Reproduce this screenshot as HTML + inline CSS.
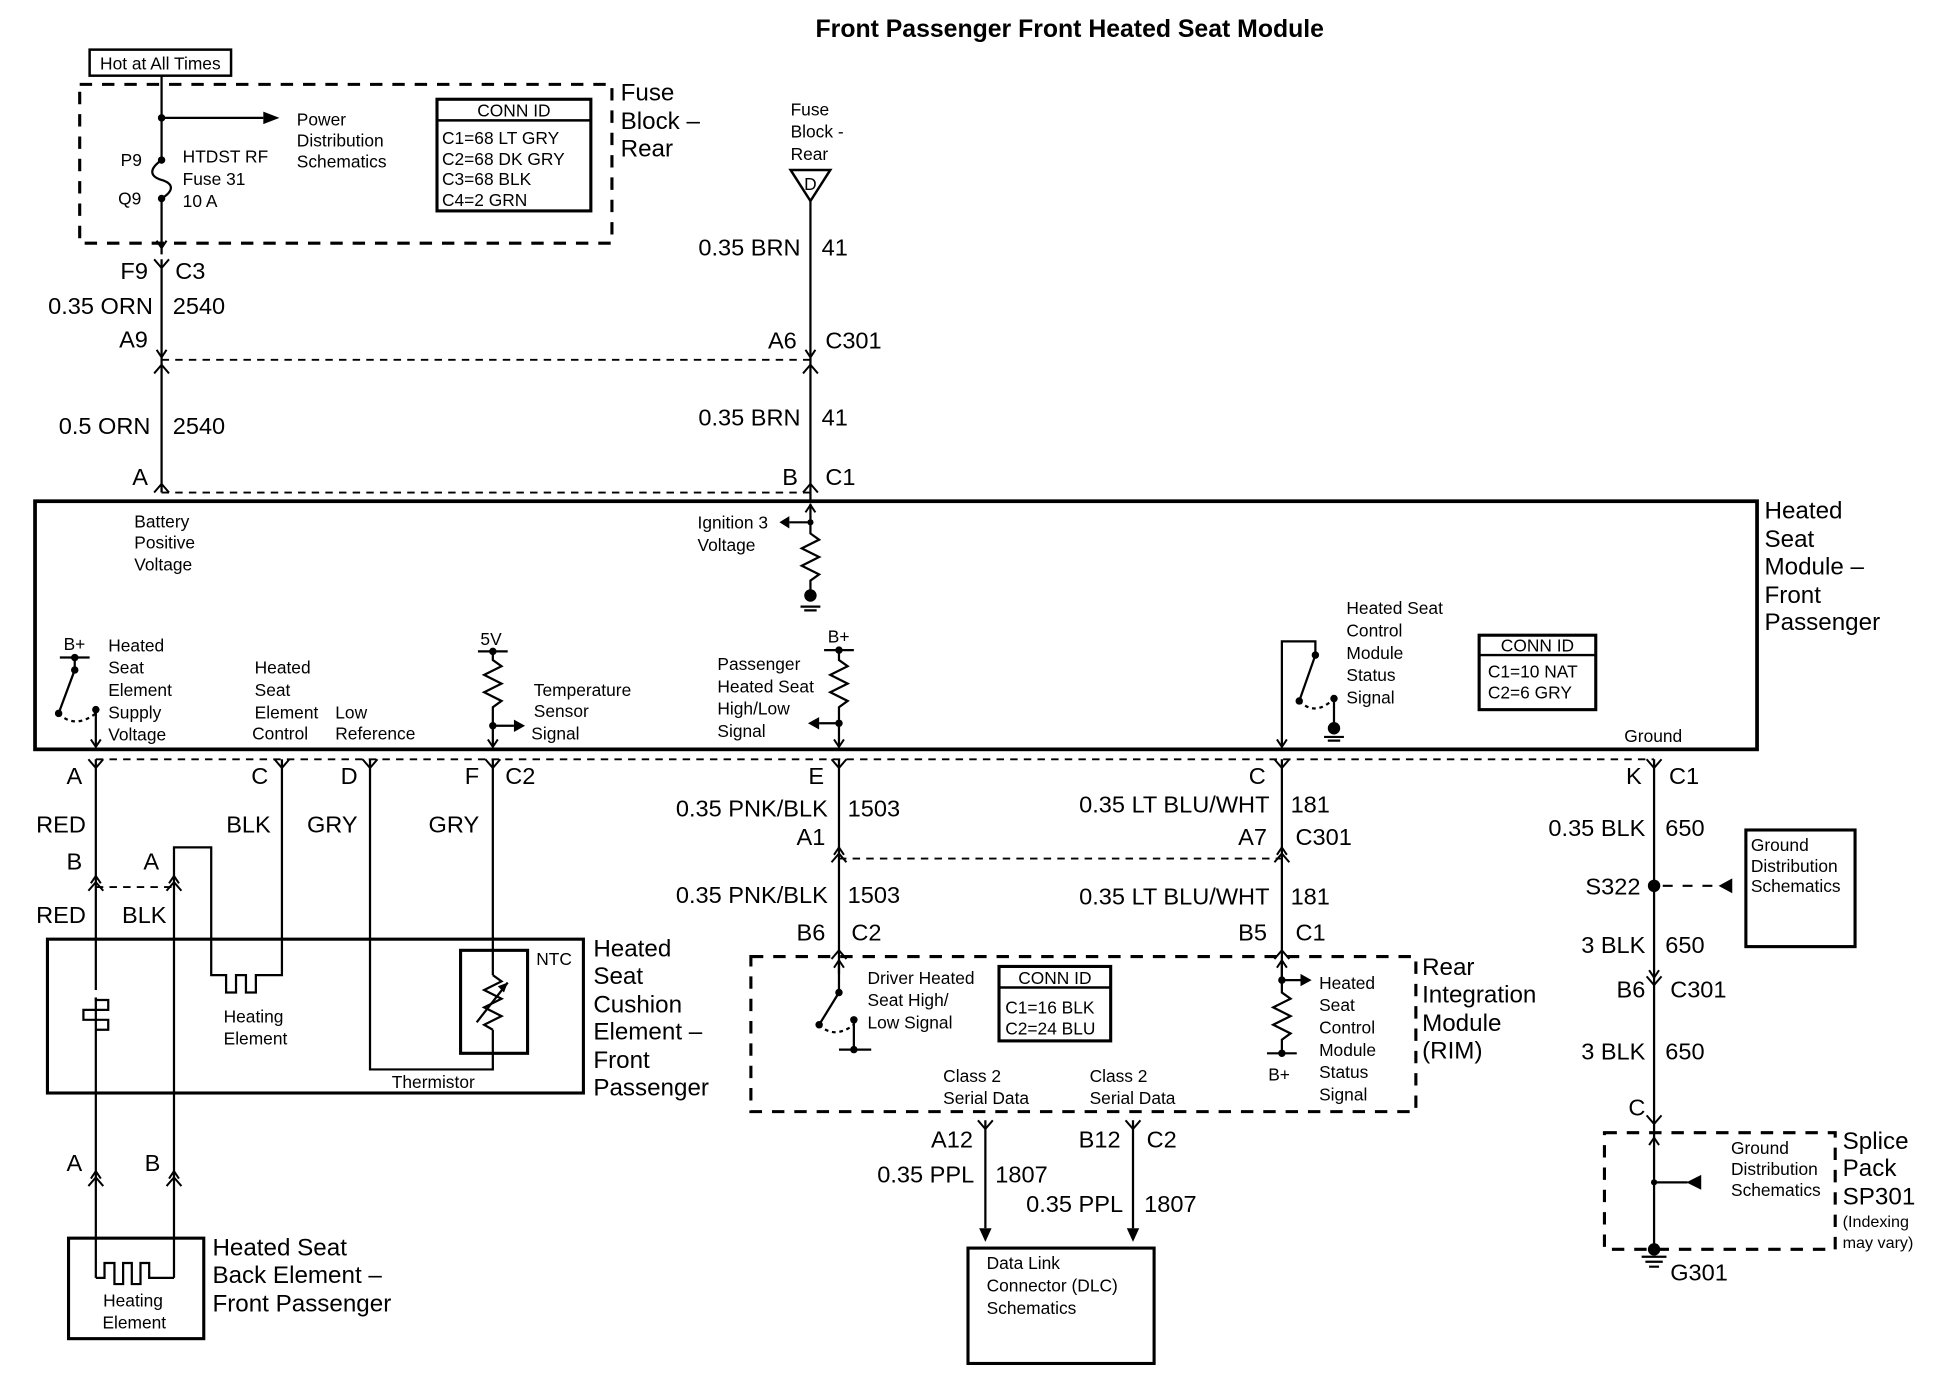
<!DOCTYPE html>
<html><head><meta charset="utf-8"><style>
html,body{margin:0;padding:0;background:#fff}
svg{display:block}
text{font-family:"Liberation Sans",Arial,sans-serif;fill:#000}
.s{font-size:14px}
.m{font-size:19px}
.L{font-size:19.5px}
.r{text-anchor:end}
.c{text-anchor:middle}
</style></head><body>
<svg width="1936" height="1392" viewBox="0 0 1560 1122" xmlns="http://www.w3.org/2000/svg">
<defs>
<path id="dn" d="M-6,-7 L0,0 L6,-7" fill="none" stroke="#000" stroke-width="1.6"/>
<path id="up" d="M-6,7 L0,0 L6,7" fill="none" stroke="#000" stroke-width="1.6"/>
<path id="ad" d="M-4,-6 L0,0 L4,-6" fill="none" stroke="#000" stroke-width="1.6"/>
<path id="au" d="M-4,6 L0,0 L4,6" fill="none" stroke="#000" stroke-width="1.6"/>
</defs>
<g stroke="#000" fill="none" stroke-width="1.8">
<!-- title -->
</g>
<text x="862" y="30" class="c" style="font-size:20px;font-weight:bold">Front Passenger Front Heated Seat Module</text>

<!-- Hot at all times -->
<rect x="72" y="40" width="114" height="21" fill="none" stroke="#000" stroke-width="2"/>
<text x="129" y="56" class="s c">Hot at All Times</text>
<!-- Fuse block dashed -->
<rect x="64" y="68" width="429" height="128" fill="none" stroke="#000" stroke-width="2.5" stroke-dasharray="10,8"/>
<text x="500" y="81" class="L">Fuse</text><text x="500" y="104" class="L">Block –</text><text x="500" y="126" class="L">Rear</text>
<g stroke="#000" fill="none" stroke-width="1.8">
<path d="M130,61 V129 M130,160 V205"/>
<path d="M130,129 C120,136 120,142 130,145 C140,148 140,154 130,160" />
<path d="M130,95 H212"/>
</g>
<polygon points="212,90 225,95 212,100" fill="#000"/>
<circle cx="130" cy="95" r="3" fill="#000"/><circle cx="130" cy="129" r="3" fill="#000"/><circle cx="130" cy="160" r="3" fill="#000"/>
<use href="#ad" x="130" y="200"/>
<text x="239" y="101" class="s">Power</text><text x="239" y="118" class="s">Distribution</text><text x="239" y="135" class="s">Schematics</text>
<text x="97" y="134" class="s">P9</text><text x="95" y="165" class="s">Q9</text>
<text x="147" y="131" class="s">HTDST RF</text><text x="147" y="149" class="s">Fuse  31</text><text x="147" y="167" class="s">10 A</text>
<rect x="352" y="80" width="124" height="90" fill="none" stroke="#000" stroke-width="2.5"/>
<line x1="352" y1="97" x2="476" y2="97" stroke="#000" stroke-width="2"/>
<text x="414" y="94" class="s c">CONN ID</text>
<text x="356" y="116" class="s">C1=68 LT GRY</text><text x="356" y="133" class="s">C2=68 DK GRY</text><text x="356" y="149" class="s">C3=68 BLK</text><text x="356" y="166" class="s">C4=2 GRN</text>

<!-- left wire 130 -->
<g stroke="#000" fill="none" stroke-width="1.8">
<path d="M130,209 V397"/>
<path d="M130,290 H653 M130,397 H653" stroke-dasharray="6,5" stroke-width="1.5"/>
<path d="M653,160 V404"/>
</g>
<use href="#dn" x="130" y="216"/>
<use href="#ad" x="130" y="288"/><use href="#up" x="130" y="294"/>
<use href="#up" x="130" y="390"/>
<text x="119" y="225" class="m r">F9</text><text x="141" y="225" class="m">C3</text>
<text x="123" y="253" class="m r">0.35 ORN</text><text x="139" y="253" class="m">2540</text>
<text x="119" y="280" class="m r">A9</text>
<text x="121" y="350" class="m r">0.5 ORN</text><text x="139" y="350" class="m">2540</text>
<text x="119" y="391" class="m r">A</text>

<!-- right top wire 653 -->
<text x="637" y="93" class="s">Fuse</text><text x="637" y="111" class="s">Block -</text><text x="637" y="129" class="s">Rear</text>
<polygon points="637,137 669,137 653,162" fill="none" stroke="#000" stroke-width="2"/>
<text x="653" y="153" class="s c">D</text>
<text x="645" y="206" class="m r">0.35 BRN</text><text x="662" y="206" class="m">41</text>
<text x="642" y="281" class="m r">A6</text><text x="665" y="281" class="m">C301</text>
<use href="#ad" x="653" y="288"/><use href="#up" x="653" y="294"/>
<text x="645" y="343" class="m r">0.35 BRN</text><text x="662" y="343" class="m">41</text>
<text x="643" y="391" class="m r">B</text><text x="665" y="391" class="m">C1</text>
<use href="#up" x="653" y="390"/>

<!-- module -->
<rect x="28" y="404" width="1388" height="200" fill="none" stroke="#000" stroke-width="3"/>
<text x="1422" y="418" class="L">Heated</text><text x="1422" y="441" class="L">Seat</text><text x="1422" y="463" class="L">Module –</text><text x="1422" y="486" class="L">Front</text><text x="1422" y="508" class="L">Passenger</text>
<text x="108" y="425" class="s">Battery</text><text x="108" y="442" class="s">Positive</text><text x="108" y="460" class="s">Voltage</text>
<text x="562" y="426" class="s">Ignition 3</text><text x="562" y="444" class="s">Voltage</text>
<g stroke="#000" fill="none" stroke-width="1.8">
<path d="M653,406 V430 L660,435 L646,442 L660,449 L646,456 L660,463 L653,468 V478"/>
<path d="M653,421 H636"/>
<path d="M645,489 H661 M648,492 H658"/>
</g>
<use href="#au" x="653" y="407"/>
<polygon points="636,416 628,421 636,426" fill="#000"/>
<circle cx="653" cy="421" r="2.5" fill="#000"/>
<circle cx="653" cy="480" r="5" fill="#000"/>

<!-- left switch -->
<g stroke="#000" fill="none" stroke-width="1.8">
<path d="M48,530 H72 M60,530 V540 M60,540 L47,575"/>
<path d="M47,575 Q60,588 77,575" stroke-dasharray="3,3"/>
<path d="M77,572 V602"/>
</g>
<circle cx="60" cy="530" r="3" fill="#000"/><circle cx="60" cy="540" r="3" fill="#000"/><circle cx="47" cy="575" r="3" fill="#000"/><circle cx="77" cy="572" r="3" fill="#000"/>
<use href="#ad" x="77" y="602"/>
<text x="51" y="524" class="s">B+</text>
<text x="87" y="525" class="s">Heated</text><text x="87" y="543" class="s">Seat</text><text x="87" y="561" class="s">Element</text><text x="87" y="579" class="s">Supply</text><text x="87" y="597" class="s">Voltage</text>
<text x="205" y="543" class="s">Heated</text><text x="205" y="561" class="s">Seat</text><text x="205" y="579" class="s">Element</text><text x="203" y="596" class="s">Control</text>
<text x="270" y="579" class="s">Low</text><text x="270" y="596" class="s">Reference</text>
<!-- 5V -->
<text x="387" y="520" class="s">5V</text>
<g stroke="#000" fill="none" stroke-width="1.8">
<path d="M385,525 H409 M397,525 V532 L404,537 L390,544 L404,551 L390,558 L404,565 L397,570 V602 M397,585 H414"/>
</g>
<circle cx="397" cy="525" r="3" fill="#000"/><circle cx="397" cy="585" r="3" fill="#000"/>
<polygon points="414,580 423,585 414,590" fill="#000"/>
<use href="#ad" x="397" y="602"/>
<text x="430" y="561" class="s">Temperature</text><text x="430" y="578" class="s">Sensor</text><text x="428" y="596" class="s">Signal</text>
<!-- passenger hi/lo -->
<text x="667" y="518" class="s">B+</text>
<g stroke="#000" fill="none" stroke-width="1.8">
<path d="M664,524 H688 M676,524 V532 L683,537 L669,544 L683,551 L669,558 L683,565 L676,570 V602 M676,583 H660"/>
</g>
<circle cx="676" cy="524" r="3" fill="#000"/><circle cx="676" cy="583" r="3" fill="#000"/>
<polygon points="660,578 651,583 660,588" fill="#000"/>
<use href="#ad" x="676" y="602"/>
<text x="578" y="540" class="s">Passenger</text><text x="578" y="558" class="s">Heated Seat</text><text x="578" y="576" class="s">High/Low</text><text x="578" y="594" class="s">Signal</text>
<!-- status switch -->
<g stroke="#000" fill="none" stroke-width="1.8">
<path d="M1033,602 V517 H1060 V528 L1047,565"/>
<path d="M1047,565 Q1060,578 1075,563" stroke-dasharray="3,3"/>
<path d="M1075,563 V585 M1067,594 H1083 M1070,597 H1080"/>
</g>
<circle cx="1060" cy="528" r="3" fill="#000"/><circle cx="1047" cy="565" r="3" fill="#000"/><circle cx="1075" cy="563" r="3" fill="#000"/><circle cx="1075" cy="587" r="5" fill="#000"/>
<use href="#ad" x="1033" y="602"/>
<text x="1085" y="495" class="s">Heated Seat</text><text x="1085" y="513" class="s">Control</text><text x="1085" y="531" class="s">Module</text><text x="1085" y="549" class="s">Status</text><text x="1085" y="567" class="s">Signal</text>
<rect x="1192" y="512" width="94" height="60" fill="none" stroke="#000" stroke-width="2.5"/>
<line x1="1192" y1="528" x2="1286" y2="528" stroke="#000" stroke-width="2"/>
<text x="1239" y="525" class="s c">CONN ID</text>
<text x="1199" y="546" class="s">C1=10 NAT</text><text x="1199" y="563" class="s">C2=6 GRY</text>
<text x="1309" y="598" class="s">Ground</text>

<!-- bottom connector row -->
<path d="M77,612 H1333" stroke="#000" stroke-width="1.5" stroke-dasharray="6,5"/>
<g stroke="#000" fill="none" stroke-width="1.8">
<path d="M77,612 V950 M77,950 V1030"/>
<path d="M227,612 V786 H206 V800 H198 V786 H190 V800 H182 V786 H170 V683 H140 V1030"/>
<path d="M298,612 V862 H397 V830 M397,612 V786"/>
<path d="M397,786 L404,791 L390,798 L404,805 L390,812 L404,819 L390,826 L397,830"/>
<path d="M384,824 L409,792"/>
<path d="M77,800 V806 H87 V814 H67 V822 H87 V830 H77"/>
<path d="M77,715 H140" stroke-dasharray="6,5" stroke-width="1.5"/>
<path d="M77,1030 H84 V1018 H92 V1035 H99 V1018 H106 V1035 H113 V1018 H120 V1030 H140"/>
</g>
<rect x="75" y="798" width="4" height="6" fill="#fff"/>
<polygon points="409,792 401,795 406,800" fill="#000"/>
<use href="#dn" x="77" y="619"/><use href="#dn" x="227" y="619"/><use href="#dn" x="298" y="619"/><use href="#dn" x="397" y="619"/>
<use href="#au" x="77" y="706"/><use href="#up" x="77" y="711"/><use href="#au" x="140" y="706"/><use href="#up" x="140" y="711"/>
<use href="#au" x="77" y="944"/><use href="#up" x="77" y="949"/><use href="#au" x="140" y="944"/><use href="#up" x="140" y="949"/>
<text x="66" y="632" class="m r">A</text><text x="216" y="632" class="m r">C</text><text x="288" y="632" class="m r">D</text><text x="386" y="632" class="m r">F</text><text x="407" y="632" class="m">C2</text>
<text x="69" y="671" class="m r">RED</text><text x="218" y="671" class="m r">BLK</text><text x="288" y="671" class="m r">GRY</text><text x="386" y="671" class="m r">GRY</text>
<text x="66" y="701" class="m r">B</text><text x="128" y="701" class="m r">A</text>
<text x="69" y="744" class="m r">RED</text><text x="134" y="744" class="m r">BLK</text>
<rect x="38" y="757" width="432" height="124" fill="none" stroke="#000" stroke-width="2.5"/>
<rect x="371" y="766" width="54" height="83" fill="none" stroke="#000" stroke-width="2.5"/>
<text x="432" y="778" class="s">NTC</text>
<text x="349" y="877" class="s c">Thermistor</text>
<text x="180" y="824" class="s">Heating</text><text x="180" y="842" class="s">Element</text>
<text x="478" y="771" class="L">Heated</text><text x="478" y="793" class="L">Seat</text><text x="478" y="816" class="L">Cushion</text><text x="478" y="838" class="L">Element –</text><text x="478" y="861" class="L">Front</text><text x="478" y="883" class="L">Passenger</text>
<text x="66" y="944" class="m r">A</text><text x="129" y="944" class="m r">B</text>
<rect x="55" y="998" width="109" height="81" fill="none" stroke="#000" stroke-width="2.5"/>
<text x="107" y="1053" class="s c">Heating</text><text x="108" y="1071" class="s c">Element</text>
<text x="171" y="1012" class="L">Heated Seat</text><text x="171" y="1034" class="L">Back Element –</text><text x="171" y="1057" class="L">Front Passenger</text>

<!-- E and C columns -->
<g stroke="#000" fill="none" stroke-width="1.8">
<path d="M676,612 V785 M1033,612 V790"/>
<path d="M676,692 H1033" stroke-dasharray="6,5" stroke-width="1.5"/>
</g>
<use href="#dn" x="676" y="619"/><use href="#dn" x="1033" y="619"/>
<use href="#au" x="676" y="683"/><use href="#up" x="676" y="688"/><use href="#au" x="1033" y="683"/><use href="#up" x="1033" y="688"/>
<use href="#up" x="676" y="766"/><use href="#up" x="1033" y="766"/>
<text x="664" y="632" class="m r">E</text>
<text x="667" y="658" class="m r">0.35 PNK/BLK</text><text x="683" y="658" class="m">1503</text>
<text x="665" y="681" class="m r">A1</text>
<text x="667" y="728" class="m r">0.35 PNK/BLK</text><text x="683" y="728" class="m">1503</text>
<text x="665" y="758" class="m r">B6</text><text x="686" y="758" class="m">C2</text>
<text x="1020" y="632" class="m r">C</text>
<text x="1023" y="655" class="m r">0.35 LT BLU/WHT</text><text x="1040" y="655" class="m">181</text>
<text x="1021" y="681" class="m r">A7</text><text x="1044" y="681" class="m">C301</text>
<text x="1023" y="729" class="m r">0.35 LT BLU/WHT</text><text x="1040" y="729" class="m">181</text>
<text x="1021" y="758" class="m r">B5</text><text x="1044" y="758" class="m">C1</text>

<!-- RIM -->
<rect x="605" y="771" width="536" height="125" fill="none" stroke="#000" stroke-width="2.5" stroke-dasharray="10,8"/>
<text x="1146" y="786" class="L">Rear</text><text x="1146" y="808" class="L">Integration</text><text x="1146" y="831" class="L">Module</text><text x="1146" y="853" class="L">(RIM)</text>
<g stroke="#000" fill="none" stroke-width="1.8">
<path d="M676,774 V800 L660,826"/>
<path d="M660,826 Q672,838 688,826" stroke-dasharray="3,3"/>
<path d="M688,822 V846 M676,846 H702"/>
<path d="M1033,774 V800 L1040,805 L1026,812 L1040,819 L1026,826 L1040,833 L1033,838 V849 M1021,849 H1045 M1033,790 H1048"/>
</g>
<use href="#au" x="676" y="774"/><use href="#au" x="1033" y="774"/>
<circle cx="676" cy="800" r="3" fill="#000"/><circle cx="660" cy="826" r="3" fill="#000"/><circle cx="688" cy="822" r="3" fill="#000"/><circle cx="688" cy="846" r="3" fill="#000"/>
<circle cx="1033" cy="790" r="3" fill="#000"/><circle cx="1033" cy="849" r="3" fill="#000"/>
<polygon points="1048,785 1057,790 1048,795" fill="#000"/>
<text x="699" y="793" class="s">Driver Heated</text><text x="699" y="811" class="s">Seat High/</text><text x="699" y="829" class="s">Low Signal</text>
<rect x="805" y="779" width="90" height="60" fill="none" stroke="#000" stroke-width="2.5"/>
<line x1="805" y1="796" x2="895" y2="796" stroke="#000" stroke-width="2"/>
<text x="850" y="793" class="s c">CONN ID</text>
<text x="810" y="817" class="s">C1=16 BLK</text><text x="810" y="834" class="s">C2=24 BLU</text>
<text x="1022" y="871" class="s">B+</text>
<text x="1063" y="797" class="s">Heated</text><text x="1063" y="815" class="s">Seat</text><text x="1063" y="833" class="s">Control</text><text x="1063" y="851" class="s">Module</text><text x="1063" y="869" class="s">Status</text><text x="1063" y="887" class="s">Signal</text>
<text x="760" y="872" class="s">Class 2</text><text x="760" y="890" class="s">Serial Data</text>
<text x="878" y="872" class="s">Class 2</text><text x="878" y="890" class="s">Serial Data</text>
<g stroke="#000" fill="none" stroke-width="1.8"><path d="M794,903 V990 M913,903 V990"/></g>
<use href="#dn" x="794" y="910"/><use href="#dn" x="913" y="910"/>
<polygon points="789,990 799,990 794,1001" fill="#000"/><polygon points="908,990 918,990 913,1001" fill="#000"/>
<text x="784" y="925" class="m r">A12</text><text x="903" y="925" class="m r">B12</text><text x="924" y="925" class="m">C2</text>
<text x="785" y="953" class="m r">0.35 PPL</text><text x="802" y="953" class="m">1807</text>
<text x="905" y="977" class="m r">0.35 PPL</text><text x="922" y="977" class="m">1807</text>
<rect x="780" y="1006" width="150" height="93" fill="none" stroke="#000" stroke-width="2.5"/>
<text x="795" y="1023" class="s">Data Link</text><text x="795" y="1041" class="s">Connector (DLC)</text><text x="795" y="1059" class="s">Schematics</text>

<!-- ground column -->
<g stroke="#000" fill="none" stroke-width="1.8">
<path d="M1333,612 V1005 M1333,953 H1360"/>
<path d="M1340,714 H1395" stroke-dasharray="8,8"/>
<path d="M1323,1013 H1343 M1326,1017 H1340 M1329,1021 H1337"/>
</g>
<use href="#dn" x="1333" y="619"/>
<use href="#ad" x="1333" y="788"/><use href="#dn" x="1333" y="794"/>
<use href="#dn" x="1333" y="906"/><use href="#au" x="1333" y="917"/>
<circle cx="1333" cy="714" r="5" fill="#000"/><circle cx="1333" cy="1007" r="5" fill="#000"/><circle cx="1333" cy="953" r="2.5" fill="#000"/>
<polygon points="1396,708 1396,720 1385,714" fill="#000"/>
<polygon points="1371,947 1371,959 1359,953" fill="#000"/>
<text x="1323" y="632" class="m r">K</text><text x="1345" y="632" class="m">C1</text>
<text x="1326" y="674" class="m r">0.35 BLK</text><text x="1342" y="674" class="m">650</text>
<text x="1322" y="721" class="m r">S322</text>
<rect x="1407" y="669" width="88" height="94" fill="none" stroke="#000" stroke-width="2.5"/>
<text x="1411" y="686" class="s">Ground</text><text x="1411" y="703" class="s">Distribution</text><text x="1411" y="719" class="s">Schematics</text>
<text x="1326" y="768" class="m r">3 BLK</text><text x="1342" y="768" class="m">650</text>
<text x="1326" y="804" class="m r">B6</text><text x="1346" y="804" class="m">C301</text>
<text x="1326" y="854" class="m r">3 BLK</text><text x="1342" y="854" class="m">650</text>
<text x="1326" y="899" class="m r">C</text>
<rect x="1293" y="913" width="186" height="94" fill="none" stroke="#000" stroke-width="2.5" stroke-dasharray="10,8"/>
<text x="1395" y="930" class="s">Ground</text><text x="1395" y="947" class="s">Distribution</text><text x="1395" y="964" class="s">Schematics</text>
<text x="1485" y="926" class="L">Splice</text><text x="1485" y="948" class="L">Pack</text><text x="1485" y="971" class="L">SP301</text>
<text x="1485" y="989" style="font-size:13px">(Indexing</text><text x="1485" y="1006" style="font-size:13px">may vary)</text>
<text x="1346" y="1032" class="m">G301</text>
</svg>
</body></html>
